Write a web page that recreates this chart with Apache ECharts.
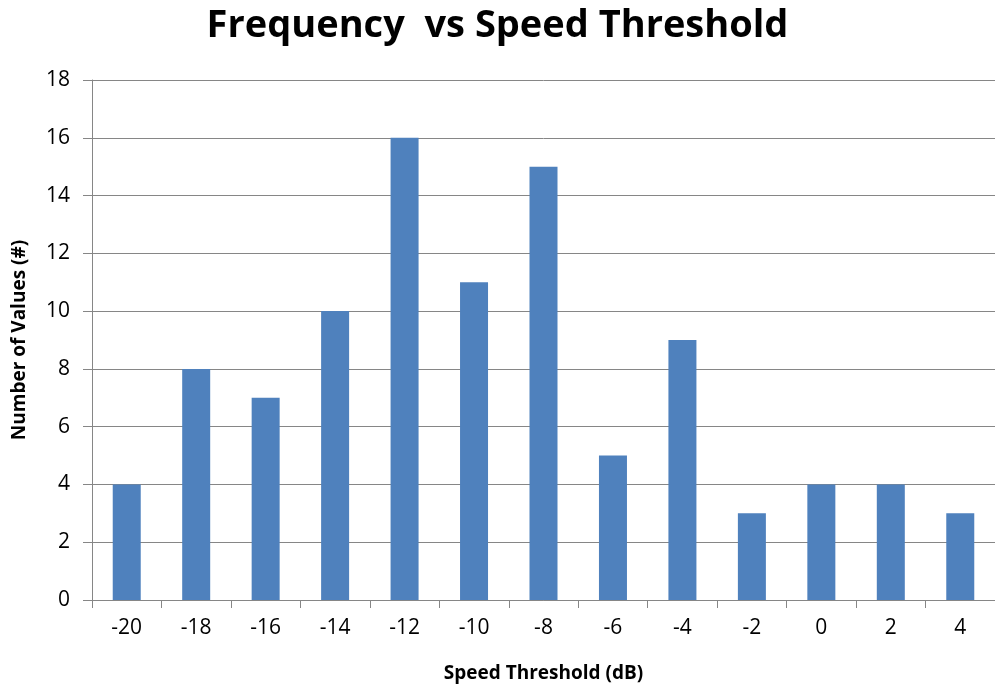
<!DOCTYPE html>
<html><head><meta charset="utf-8">
<script src="https://cdn.jsdelivr.net/npm/echarts@6/dist/echarts.min.js"></script>
<style>html,body{margin:0;padding:0;background:#fff}#c{width:995px;height:684px}</style>
</head><body><div id="c"></div>
<script>
const categories = ['-20','-18','-16','-14','-12','-10','-8','-6','-4','-2','0','2','4'];
const counts = [4, 8, 7, 10, 16, 11, 15, 5, 9, 3, 4, 4, 3];
const titleText = 'Frequency  vs Speed Threshold';
const xName = 'Speed Threshold (dB)';
const yName = 'Number of Values (#)';

const chart = echarts.init(document.getElementById('c'));
const font = '"Open Sans", sans-serif';
chart.setOption({
  animation: false,
  title: {
    text: titleText, left: 'center', top: 2,
    textStyle: {fontFamily: font, fontSize: 38, fontWeight: 'bold', color: '#000'}
  },
  grid: {left: 92, right: 0, top: 80, bottom: 84, containLabel: false, outerBoundsMode: 'none'},
  xAxis: {
    type: 'category', data: categories,
    name: xName, nameLocation: 'middle', nameGap: 64,
    nameTextStyle: {fontFamily: font, fontSize: 19, fontWeight: 'bold', color: '#000'},
    axisLine: {lineStyle: {color: '#868686', width: 1}},
    axisTick: {show: true, length: 8, lineStyle: {color: '#868686'}},
    axisLabel: {fontFamily: font, fontSize: 21, color: '#000', margin: 18}
  },
  yAxis: {
    type: 'value', min: 0, max: 18, interval: 2,
    name: yName, nameLocation: 'middle', nameGap: 63,
    nameTextStyle: {fontFamily: font, fontSize: 19, fontWeight: 'bold', color: '#000'},
    axisLine: {show: true, lineStyle: {color: '#868686', width: 1}},
    axisTick: {show: true, length: 9, lineStyle: {color: '#868686'}},
    axisLabel: {fontFamily: font, fontSize: 21, color: '#000', margin: 22},
    splitLine: {lineStyle: {color: '#868686', width: 1}}
  },
  series: [{
    type: 'bar', data: counts, barWidth: 28,
    itemStyle: {color: '#4F81BD'}
  }]
});
</script></body></html>
